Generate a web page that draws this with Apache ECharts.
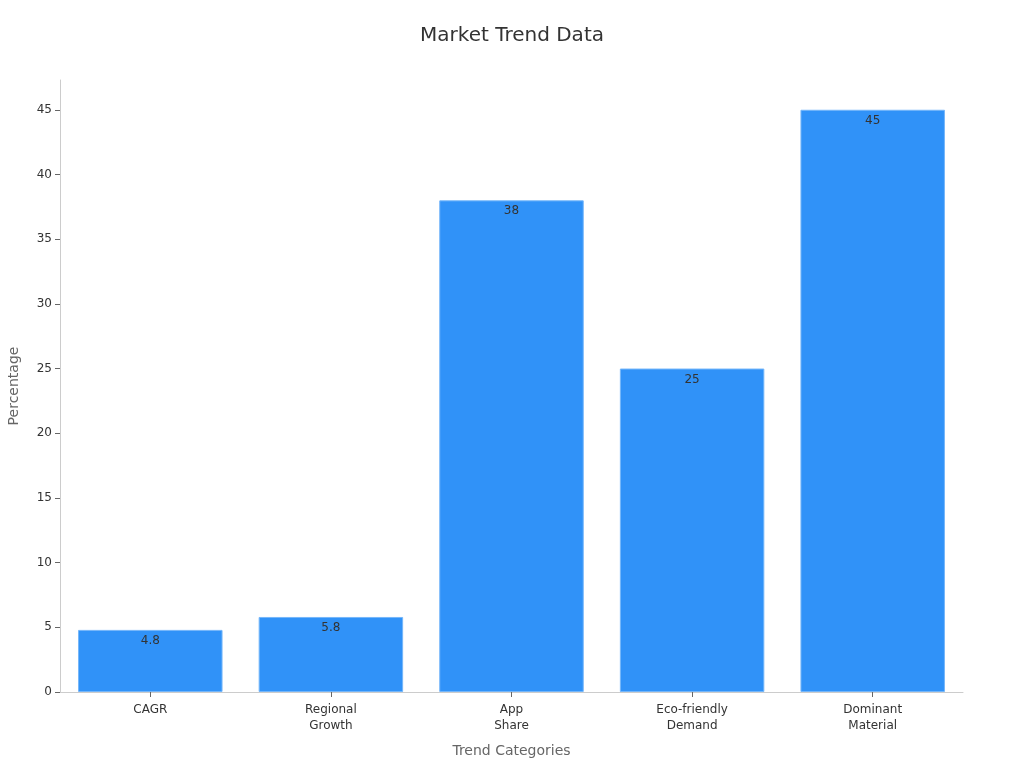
<!DOCTYPE html>
<html>
<head>
<meta charset="utf-8">
<script src="https://cdn.jsdelivr.net/npm/echarts@6/dist/echarts.min.js"></script>
<style>html,body{margin:0;padding:0;background:#fff;}#main{width:1024px;height:768px;}</style>
</head>
<body>
<div id="main"></div>
<script>
const categories = ["CAGR", "Regional\nGrowth", "App\nShare", "Eco-friendly\nDemand", "Dominant\nMaterial"];
const values = [4.8, 5.8, 38, 25, 45];
const yTicks = [0, 5, 10, 15, 20, 25, 30, 35, 40, 45];

const chart = echarts.init(document.getElementById('main'), null, {renderer: 'canvas'});
chart.setOption({
  animation: false,
  backgroundColor: '#ffffff',
  textStyle: {fontFamily: 'DejaVu Sans'},
  title: {
    text: 'Market Trend Data', left: 'center', top: 21,
    textStyle: {fontSize: 20, fontWeight: 'normal', color: '#333', fontFamily: 'DejaVu Sans'}
  },
  grid: {left: 60, right: 61, top: 80, bottom: 76, containLabel: false, outerBoundsMode: 'none'},
  xAxis: {
    type: 'category', data: categories,
    name: 'Trend Categories', nameLocation: 'middle', nameGap: 52,
    nameTextStyle: {fontSize: 14, color: '#666'},
    axisLine: {show: true, lineStyle: {color: '#ccc'}},
    axisTick: {show: true, alignWithLabel: true, lineStyle: {color: '#666'}, length: 5},
    axisLabel: {fontSize: 12, color: '#333', interval: 0, margin: 10, lineHeight: 16},
    splitLine: {show: false}
  },
  yAxis: {
    type: 'value', min: 0, max: 47.3,
    name: 'Percentage', nameLocation: 'middle', nameGap: 39,
    nameTextStyle: {fontSize: 14, color: '#666'},
    axisLine: {show: true, lineStyle: {color: '#ccc'}},
    axisTick: {show: true, customValues: yTicks, lineStyle: {color: '#666'}, length: 5},
    axisLabel: {fontSize: 12, color: '#333', customValues: yTicks, margin: 8},
    splitLine: {show: false}
  },
  series: [{
    type: 'bar', data: values, barCategoryGap: '20%',
    itemStyle: {color: '#3092f8', borderColor: '#74b6fa', borderWidth: 1},
    label: {show: true, position: 'insideTop', distance: 5, fontSize: 12, color: '#333'}
  }]
});
</script>
</body>
</html>
